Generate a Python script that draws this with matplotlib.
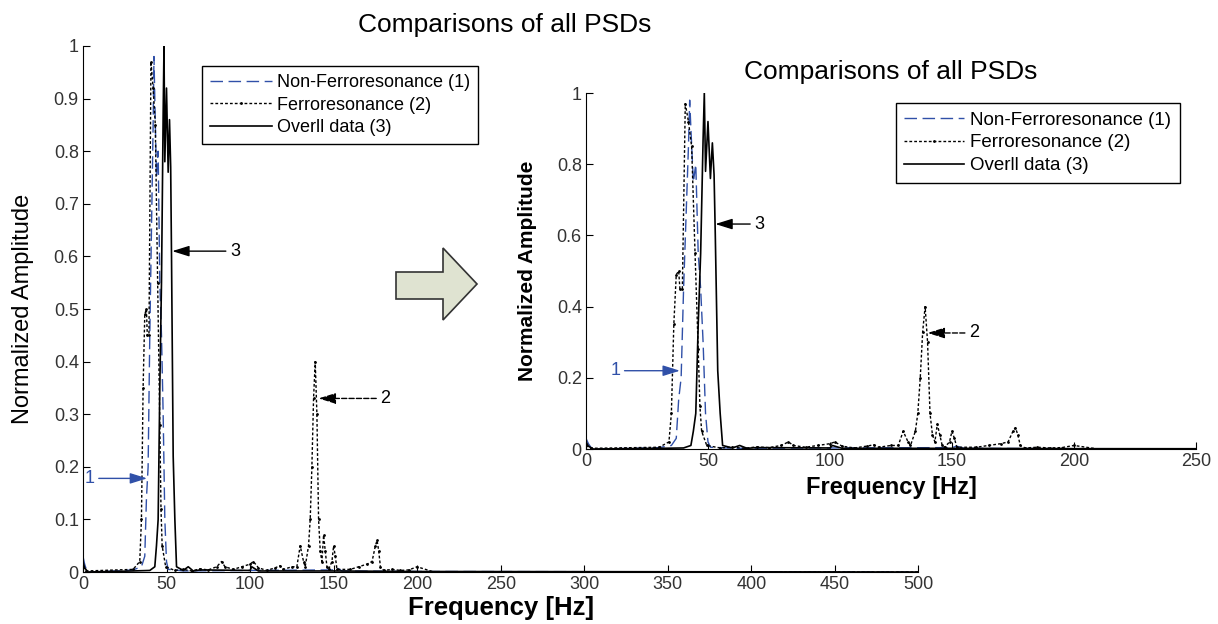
import numpy as np
import matplotlib.pyplot as plt
from matplotlib.patches import Polygon

plt.rcParams['font.family'] = ['Liberation Sans', 'DejaVu Sans']

# --- data ---
# Non-Ferroresonance (1)
f1 = [0, 1, 2, 3, 20, 30, 35, 37, 38, 39, 40, 41, 42, 42.5, 43, 44, 45, 46, 47, 48, 49, 50, 51, 55, 60, 100, 150, 152, 155, 200, 500]
a1 = [0.03, 0.015, 0.005, 0.0, 0.002, 0.004, 0.01, 0.03, 0.14, 0.2, 0.45, 0.65, 0.85, 0.98, 0.9, 0.75, 0.8, 0.55, 0.45, 0.3, 0.1, 0.02, 0.005, 0.004, 0.002, 0.003, 0.004, 0.008, 0.002, 0.001, 0.0]

# Ferroresonance (2)
f2 = [0, 2, 30, 34, 35, 36, 37, 38, 38.5, 39.5, 40.7, 42, 43.3, 44.7, 46, 46.7, 47.4, 49.5, 55, 60, 65, 70, 75, 80, 83, 85, 90, 95, 100, 102, 105, 110, 115, 118, 120, 125,
      128, 130, 132, 133, 135, 136, 137, 138, 139, 140, 141, 142, 143, 144, 145, 146, 147, 149, 150, 151, 152, 160, 165, 170, 173, 175, 176, 177, 178, 180, 185, 190, 195, 200, 210, 500]
a2 = [0.01, 0.002, 0.005, 0.02, 0.1, 0.35, 0.49, 0.5, 0.45, 0.45, 0.97, 0.92, 0.85, 0.55, 0.28, 0.12, 0.05, 0.01, 0.003, 0.005, 0.002, 0.006, 0.004, 0.01, 0.02, 0.01, 0.005, 0.01, 0.015, 0.02, 0.008, 0.003, 0.008, 0.012, 0.005, 0.01,
      0.01, 0.05, 0.02, 0.01, 0.05, 0.1, 0.2, 0.33, 0.4, 0.3, 0.1, 0.04, 0.02, 0.07, 0.04, 0.01, 0.005, 0.02, 0.05, 0.03, 0.005, 0.005, 0.01, 0.015, 0.02, 0.05, 0.06, 0.04, 0.01, 0.003, 0.005, 0.003, 0.004, 0.01, 0.0, 0.0]

# Overll data (3)
f3 = [0, 1, 3, 30, 40, 43, 44, 45, 46, 47, 48, 48.5, 49, 50, 51, 51.8, 52.5, 53, 54, 55, 56, 60, 63, 66, 70, 100, 101, 105, 150, 200, 500]
a3 = [0.02, 0.008, 0.0, 0.002, 0.003, 0.01, 0.05, 0.1, 0.35, 0.55, 0.87, 1.0, 0.78, 0.92, 0.76, 0.86, 0.77, 0.6, 0.22, 0.1, 0.01, 0.003, 0.01, 0.002, 0.004, 0.003, 0.01, 0.002, 0.002, 0.001, 0.0]

labels = ['Non-Ferroresonance (1)', 'Ferroresonance (2)', 'Overll data (3)']
blue = '#3050a8'

fig = plt.figure(figsize=(12.18, 6.24), dpi=100)
arrow_kw = dict(arrowstyle='-|>,head_width=0.25,head_length=0.8', lw=1, shrinkA=1, shrinkB=0)


def draw(ax, xmax, yticks, fs_xlab, fs_ylab, ylab_bold, leg_anchor, handlelen, fs_leg):
    ax.plot(f1, a1, color=blue, lw=1.0, dashes=(9, 4), label=labels[0])
    ax.plot(f2, a2, color='black', lw=1.0, dashes=(2, 1.5), marker='.', markersize=2, label=labels[1])
    ax.plot(f3, a3, color='black', lw=1.2, label=labels[2])
    ax.set_xlim(0, xmax)
    ax.set_ylim(0, 1)
    ax.set_xticks(np.arange(0, xmax + 1, 50))
    ax.set_yticks(yticks)
    ax.set_yticklabels([('%g' % v) for v in yticks])
    ax.spines['top'].set_visible(False)
    ax.spines['right'].set_visible(False)
    ax.tick_params(direction='in', length=5, labelsize=13, labelcolor='#333333', pad=3)
    ax.set_xlabel('Frequency [Hz]', fontsize=fs_xlab, fontweight='bold', labelpad=2)
    ax.set_ylabel('Normalized Amplitude', fontsize=fs_ylab, fontweight='bold' if ylab_bold else 'normal')
    leg = ax.legend(loc='upper left', bbox_to_anchor=leg_anchor, bbox_transform=fig.transFigure,
                    fontsize=fs_leg, fancybox=False, framealpha=1, edgecolor='black',
                    handlelength=handlelen, numpoints=1, borderaxespad=0, labelspacing=0.3,
                    handletextpad=0.3, borderpad=0.45)
    leg.get_frame().set_linewidth(1.0)


# main axes
ax = fig.add_axes([0.0681, 0.0833, 0.686, 0.843])
draw(ax, 500, np.round(np.arange(0, 1.01, 0.1), 1), 18.5, 17, False, (202 / 1218, 1 - 66 / 624), 3.4, 13)
ax.yaxis.set_label_coords(-0.058, 0.5)
ax.annotate('3', xy=(53.4, 0.61), xytext=(88, 0.61), fontsize=13, va='center',
            arrowprops=dict(color='black', **arrow_kw))
ax.annotate('2', xy=(141, 0.33), xytext=(178, 0.33), fontsize=13, va='center',
            arrowprops=dict(color='black', ls='--', **arrow_kw))
ax.annotate('1', xy=(38.4, 0.178), xytext=(1, 0.178), fontsize=13, va='center', color=blue,
            arrowprops=dict(color=blue, **arrow_kw))

# inset axes
ins = fig.add_axes([0.4811, 0.2804, 0.5008, 0.5705])
draw(ins, 250, np.round(np.arange(0, 1.01, 0.2), 1), 17, 15, True, (896 / 1218, 1 - 103 / 624), 3.2, 13.5)
ins.yaxis.set_label_coords(-0.08, 0.5)
ins.xaxis.set_label_coords(0.5, -0.075)
ins.annotate('3', xy=(53, 0.632), xytext=(69, 0.632), fontsize=13, va='center',
             arrowprops=dict(color='black', **arrow_kw))
ins.annotate('2', xy=(140, 0.326), xytext=(157, 0.326), fontsize=13, va='center',
             arrowprops=dict(color='black', ls='--', **arrow_kw))
ins.annotate('1', xy=(38.5, 0.22), xytext=(10, 0.22), fontsize=13, va='center', color=blue,
             arrowprops=dict(color=blue, **arrow_kw))

# titles
fig.text(505 / 1218, 1 - 25 / 624, 'Comparisons of all PSDs', fontsize=19, ha='center', va='center')
fig.text(891 / 1218, 1 - 72 / 624, 'Comparisons of all PSDs', fontsize=19, ha='center', va='center')

# big block arrow between the two plots (figure pixel coords)
arrow_px = [(396, 272), (443, 272), (443, 248), (477, 284), (443, 320), (443, 299), (396, 299)]
arrow_fig = [(x / 1218, 1 - y / 624) for x, y in arrow_px]
fig.patches.append(Polygon(arrow_fig, closed=True, transform=fig.transFigure,
                           facecolor='#dfe3d1', edgecolor='#333333', lw=1.2))

fig.savefig('out.png', dpi=100)
